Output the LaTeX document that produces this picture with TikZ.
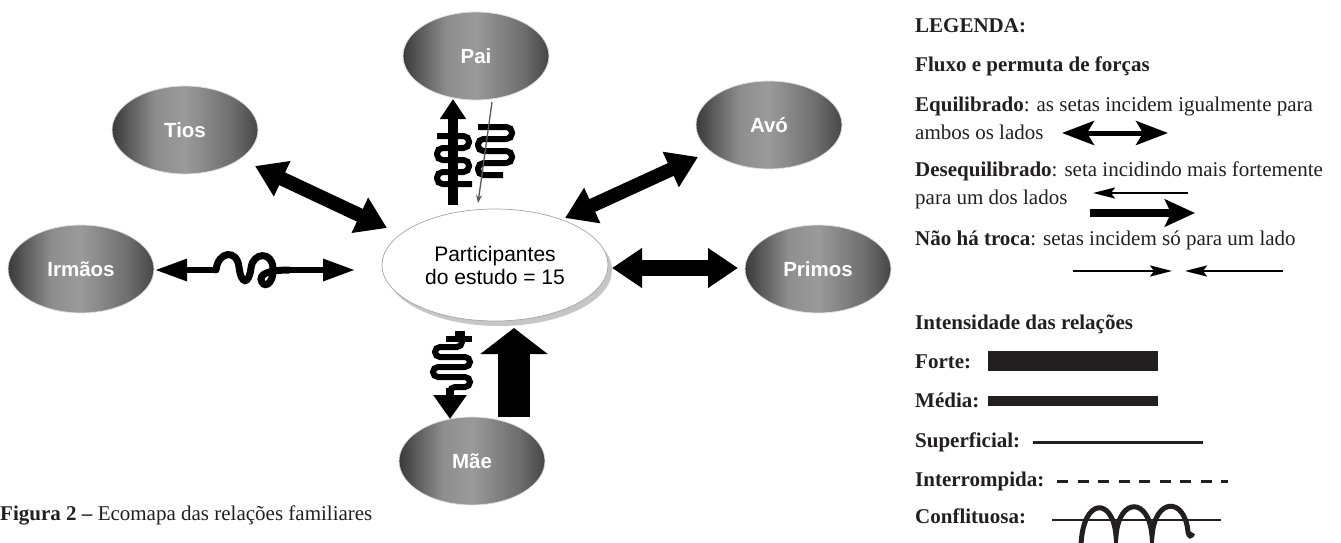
\documentclass[tikz,border=0pt]{standalone}
\usepackage{fontspec}
\setmainfont{Liberation Serif}
\newfontfamily\lsans{Liberation Sans}
\usetikzlibrary{arrows.meta,shapes.geometric}
\definecolor{ga}{HTML}{3A3A3A}
\definecolor{gb}{HTML}{8E8E8E}
\definecolor{gc}{HTML}{9A9A9A}
\definecolor{gd}{HTML}{6E6E6E}
\definecolor{ge}{HTML}{474747}
\definecolor{txt}{HTML}{231F20}
\pgfdeclarehorizontalshading{ellgrad}{100bp}{color(0bp)=(ga); color(25bp)=(ga); color(40bp)=(gb); color(50bp)=(gc); color(66bp)=(gd); color(75bp)=(ge); color(100bp)=(ge)}
\begin{document}
\begin{tikzpicture}[x=1pt,y=-1pt,
  member/.style={ellipse, minimum width=146pt, minimum height=88pt, inner sep=0pt,
    shade, shading=ellgrad, draw=gray!25, line width=0.8pt, text=white,
    font=\lsans\bfseries\fontsize{20.5}{24}\selectfont},
  hub/.style={ellipse, minimum width=226pt, minimum height=112pt, inner sep=0pt,
    fill=white, draw=gray!70, line width=0.7pt, align=center,
    font=\lsans\fontsize{21}{23}\selectfont},
  bigdbl/.style={line width=14pt, {Triangle[length=30pt,width=37pt]}-{Triangle[length=30pt,width=37pt]}},
  coil/.style={line width=6pt, rounded corners=5.5pt},
  leg/.style={anchor=base west, inner sep=0pt, text=txt, font=\fontsize{21}{25}\selectfont},
  thinarr/.style={line width=2.2pt, -{Stealth[length=22pt,width=11pt,inset=4pt]}},
]
\useasboundingbox (0,0) rectangle (1341,543);

% ---- nodes ----
\fill[gray!45] (499,270) ellipse [x radius=113, y radius=56];
\node[hub] (hub) at (495,265) {Participantes\\do estudo = 15};
\node[member] (pai) at (476,56) {Pai};
\node[member] (tios) at (185,130) {Tios};
\node[member] (avo) at (769,125) {Avó};
\node[member] (irm) at (81,269) {Irmãos};
\node[member] (prim) at (818,269) {Primos};
\node[member] (mae) at (472,461) {Mãe};

% ---- connector end points ----
\coordinate (tiosA) at (255,166);  \coordinate (tiosB) at (387,228);
\coordinate (avoA) at (698,157);   \coordinate (avoB) at (565,218);
\coordinate (primA) at (612,268);  \coordinate (primB) at (738,268);
\coordinate (irmA) at (155,270);   \coordinate (irmA2) at (216,270);
\coordinate (irmB) at (355,270);   \coordinate (irmB2) at (289,270);
\coordinate (paiA) at (453,205);   \coordinate (paiB) at (453,99);
\coordinate (paiC) at (492,102);   \coordinate (paiD) at (478,203);
\coordinate (maeA) at (450,388);   \coordinate (maeB) at (450,419);
\coordinate (maeC) at (514,417);   \coordinate (maeD) at (514,328);

% ---- connectors ----
\draw[bigdbl] (tiosA) -- (tiosB);
\draw[bigdbl] (avoA) -- (avoB);
\draw[line width=16pt, {Triangle[length=30pt,width=38pt]}-{Triangle[length=30pt,width=38pt]}] (primA) -- (primB);

% Irmaos (conflict)
\draw[line width=6pt, -{Triangle[length=32pt,width=21pt]}] (irmA2) -- (irmA);
\draw[line width=6pt, -{Triangle[length=32pt,width=21pt]}] (irmB2) -- (irmB);
\draw[line width=7pt, line cap=round] (irmA2) .. controls (218,251) and (237,249) .. (239,267)
  .. controls (241,285) and (249,285) .. (251,268)
  .. controls (253,252) and (272,251) .. (273,268)
  .. controls (274,286) and (262,289) .. (261,279)
  .. controls (261,272) and (275,270) .. (irmB2);

% Pai
\draw[line width=10pt, -{Triangle[length=20pt,width=25pt]}] (paiA) -- (paiB);
\draw[coil] (437,136) -- (469,136) -- (469,148) -- (437,148) -- (437,160) -- (469,160)
  -- (469,172) -- (437,172) -- (437,184) -- (472,184);
\draw[coil] (478,127) -- (512,127) -- (512,139) -- (478,139) -- (478,151) -- (512,151)
  -- (512,163) -- (478,163) -- (478,175) -- (503,175);
\draw[gray!70!black, line width=1.3pt, -{Stealth[length=8pt,width=6pt]}] (paiC) -- (paiD);

% Mae
\fill (446,336) rectangle (472,342);
\fill (455,331) rectangle (465,336);
\draw[coil, rounded corners=5pt] (462,340) -- (462,347) -- (435,347) -- (435,357) -- (470,357)
  -- (470,367) -- (433,367) -- (433,377) -- (470,377) -- (470,387) -- (450,387) -- (450,393);
\draw[line width=8pt, -{Triangle[length=24pt,width=32pt]}] (maeA) -- (maeB);
\draw[line width=32pt, -{Triangle[length=26pt,width=66pt]}] (maeC) -- (maeD);

% ---- caption ----
\node[leg] (cap) at (0,520) {\textbf{Figura 2 –} Ecomapa das relações familiares};

% ---- legend ----
\node[leg] (l1) at (915,33) {\textbf{LEGENDA:}};
\node[leg] (l2) at (915,71) {\textbf{Fluxo e permuta de forças}};
\node[leg] (l3) at (915,111) {\textbf{Equilibrado}: as setas incidem igualmente para};
\node[leg] (l4) at (915,139) {ambos os lados};
\coordinate (eqA) at (1062,133); \coordinate (eqB) at (1168,133);
\draw[line width=5pt, {Stealth[length=32pt,width=24pt,inset=7pt]}-{Stealth[length=32pt,width=24pt,inset=7pt]}] (eqA) -- (eqB);
\node[leg] (l5) at (915,176) {\textbf{Desequilibrado}: seta incidindo mais fortemente};
\node[leg] (l6) at (915,204) {para um dos lados};
\coordinate (dsA) at (1188,193); \coordinate (dsB) at (1093,193);
\draw[thinarr] (dsA) -- (dsB);
\coordinate (dsC) at (1090,213); \coordinate (dsD) at (1195,213);
\draw[line width=8pt, -{Stealth[length=30pt,width=27pt,inset=6pt]}] (dsC) -- (dsD);
\node[leg] (l7) at (915,245) {\textbf{Não há troca}: setas incidem só para um lado};
\coordinate (ntA) at (1073,271); \coordinate (ntB) at (1172,271);
\coordinate (ntC) at (1283,271); \coordinate (ntD) at (1185,271);
\draw[thinarr] (ntA) -- (ntB);
\draw[thinarr] (ntC) -- (ntD);

\node[leg] (l8) at (915,329) {\textbf{Intensidade das relações}};
\node[leg] (l9) at (915,368) {\textbf{Forte:}};
\fill[txt] (988,351) rectangle (1158,371);
\node[leg] (l10) at (915,407) {\textbf{Média:}};
\fill[txt] (988,396) rectangle (1158,406);
\node[leg] (l11) at (915,447) {\textbf{Superficial:}};
\draw[txt, line width=3pt] (1033,442) -- (1203,442);
\node[leg] (l12) at (915,486) {\textbf{Interrompida:}};
\draw[txt, line width=3pt, dash pattern=on 11pt off 9.5pt] (1057,481) -- (1228,481);
\node[leg] (l13) at (915,523) {\textbf{Conflituosa:}};
\draw[txt, line width=2.5pt] (1052,520) -- (1221,520);
\draw[txt, line width=5pt] (1081,545) .. controls (1083,497) and (1113,497) .. (1116,536)
  .. controls (1119,497) and (1149,497) .. (1152,536)
  .. controls (1155,497) and (1185,497) .. (1188,532)
  .. controls (1189,537) and (1191,537) .. (1193,533);
\end{tikzpicture}
\end{document}
